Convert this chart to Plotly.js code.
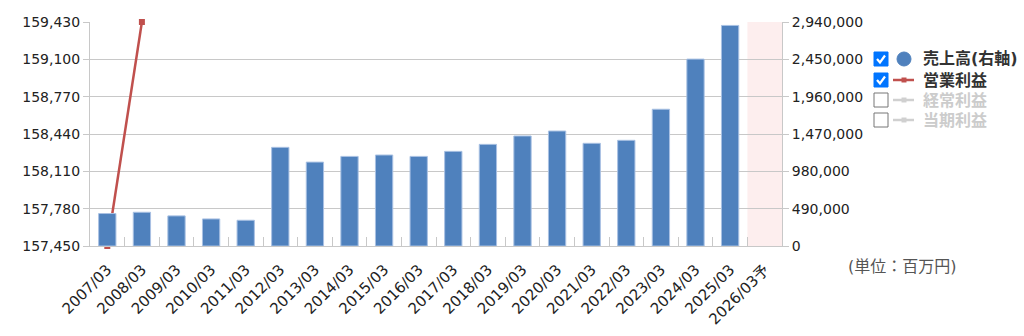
<!DOCTYPE html>
<html>
<head>
<meta charset="utf-8">
<script src="https://cdn.plot.ly/plotly-3.0.1.min.js"></script>
<style>
html,body{margin:0;padding:0;background:#fff;}
#chart{width:1024px;height:336px;}
</style>
</head>
<body>
<div id="chart"></div>
<script>
// ---- data ----
const categories = ["2007/03","2008/03","2009/03","2010/03","2011/03","2012/03","2013/03","2014/03","2015/03","2016/03","2017/03","2018/03","2019/03","2020/03","2021/03","2022/03","2023/03","2024/03","2025/03","2026/03予"];
const sales = [426000, 443000, 395000, 355000, 338000, 1295000, 1101000, 1176000, 1194000, 1176000, 1242000, 1334000, 1444000, 1509000, 1348000, 1387000, 1795000, 2453000, 2895000, null];
const operatingProfit = [157450, 159430, null, null, null, null, null, null, null, null, null, null, null, null, null, null, null, null, null, null];
const leftTicks = [157450, 157780, 158110, 158440, 158770, 159100, 159430];
const leftTickText = ["157,450","157,780","158,110","158,440","158,770","159,100","159,430"];
const rightTicks = [0, 490000, 980000, 1470000, 1960000, 2450000, 2940000];
const rightTickText = ["0","490,000","980,000","1,470,000","1,960,000","2,450,000","2,940,000"];
const legendNames = ["売上高(右軸)","営業利益","経常利益","当期利益"];
const legendChecked = [true, true, false, false];
const unitLabel = "(単位：百万円)";

// ---- geometry helpers (plot area in pixels) ----
const PL = 90, PR = 782, PT = 22, PB = 246;
const px = x => (x - PL) / (PR - PL);
const py = y => (PB - y) / (PB - PT);

const FONT = "DejaVu Sans, Verdana, 'Noto Sans CJK JP', sans-serif";

const traces = [
  {
    type: 'bar', x: categories, y: sales, yaxis: 'y2',
    marker: {color: '#4f81bd', line: {color: '#a9c1e3', width: 1}},
    width: 0.5, hoverinfo: 'skip', showlegend: false
  },
  {
    type: 'scatter', mode: 'lines+markers', x: categories, y: operatingProfit, yaxis: 'y',
    line: {color: '#c0504d', width: 2.5},
    marker: {color: '#c0504d', symbol: 'square', size: 6},
    cliponaxis: false, connectgaps: false, hoverinfo: 'skip', showlegend: false
  }
];

const shapes = [];
const annotations = [];

// forecast shading
shapes.push({type: 'rect', xref: 'x', yref: 'paper', x0: 18.5, x1: 19.5, y0: 0, y1: 1,
  fillcolor: '#fdeeee', line: {width: 0}, layer: 'below'});

// legend rows
const rowY = [59, 80, 100, 120];
legendNames.forEach((name, i) => {
  const cy = rowY[i];
  const x0 = 874, x1 = 888, y0 = cy - 7, y1 = cy + 7;
  if (legendChecked[i]) {
    shapes.push({type: 'rect', xref: 'paper', yref: 'paper', x0: px(x0), x1: px(x1), y0: py(y1), y1: py(y0),
      fillcolor: '#0075ff', line: {color: '#0075ff', width: 1}});
    shapes.push({type: 'path', xref: 'paper', yref: 'paper',
      path: `M ${px(x0+3)} ${py(cy)} L ${px(x0+6)} ${py(cy+3.5)} L ${px(x0+11)} ${py(cy-3.5)}`,
      line: {color: '#ffffff', width: 2.2}});
  } else {
    shapes.push({type: 'rect', xref: 'paper', yref: 'paper', x0: px(x0), x1: px(x1), y0: py(y1), y1: py(y0),
      fillcolor: '#ffffff', line: {color: '#767676', width: 1}});
  }
  // symbols
  if (i === 0) {
    shapes.push({type: 'circle', xref: 'paper', yref: 'paper', x0: px(897), x1: px(911), y0: py(cy + 7), y1: py(cy - 7),
      fillcolor: '#4f81bd', line: {color: '#4f81bd', width: 1}});
  } else {
    const col = i === 1 ? '#c0504d' : '#d0d0d0';
    shapes.push({type: 'line', xref: 'paper', yref: 'paper', x0: px(893), x1: px(914), y0: py(cy), y1: py(cy),
      line: {color: col, width: 2.5}});
    shapes.push({type: 'rect', xref: 'paper', yref: 'paper', x0: px(901.5), x1: px(906.5), y0: py(cy + 2.5), y1: py(cy - 2.5),
      fillcolor: col, line: {width: 0}});
  }
  annotations.push({xref: 'paper', yref: 'paper', x: px(921), y: py(cy), xanchor: 'left', yanchor: 'middle',
    text: '<b>' + name + '</b>', showarrow: false,
    font: {family: FONT, size: 16, color: legendChecked[i] ? '#333333' : '#cccccc'}});
});

annotations.push({xref: 'paper', yref: 'paper', x: px(846), y: py(266), xanchor: 'left', yanchor: 'middle',
  text: unitLabel, showarrow: false, font: {family: FONT, size: 16, color: '#555555'}});

const layout = {
  width: 1024, height: 336,
  margin: {l: PL, r: 1024 - PR, t: PT, b: 336 - PB, pad: 0},
  paper_bgcolor: '#ffffff', plot_bgcolor: 'rgba(0,0,0,0)',
  showlegend: false,
  font: {family: FONT, size: 14, color: '#333333'},
  xaxis: {
    type: 'category', categoryorder: 'array', categoryarray: categories,
    range: [-0.5, 19.5], tickangle: -45,
    ticks: 'inside', tickson: 'boundaries', ticklen: 9, tickcolor: '#c8c8c8', tickwidth: 1,
    ticklabelstandoff: 8,
    showline: true, linecolor: '#c8c8c8', linewidth: 1, showgrid: false, zeroline: false,
    tickfont: {family: FONT, size: 15, color: '#222222'}, fixedrange: true
  },
  yaxis: {
    range: [157450, 159430], tickvals: leftTicks, ticktext: leftTickText,
    ticks: 'outside', ticklen: 6, tickcolor: '#c8c8c8',
    showline: true, linecolor: '#c8c8c8', linewidth: 1,
    showgrid: true, gridcolor: '#c8c8c8', gridwidth: 1, zeroline: false,
    tickfont: {family: FONT, size: 14, color: '#222222'}, fixedrange: true
  },
  yaxis2: {
    overlaying: 'y', side: 'right',
    range: [0, 2940000], tickvals: rightTicks, ticktext: rightTickText,
    ticks: 'outside', ticklen: 6, tickcolor: '#c8c8c8',
    showline: true, linecolor: '#c8c8c8', linewidth: 1,
    showgrid: false, zeroline: false,
    tickfont: {family: FONT, size: 14, color: '#222222'}, fixedrange: true
  },
  bargap: 0.5,
  shapes: shapes,
  annotations: annotations
};

Plotly.newPlot('chart', traces, layout, {staticPlot: true, displayModeBar: false});
</script>
</body>
</html>
